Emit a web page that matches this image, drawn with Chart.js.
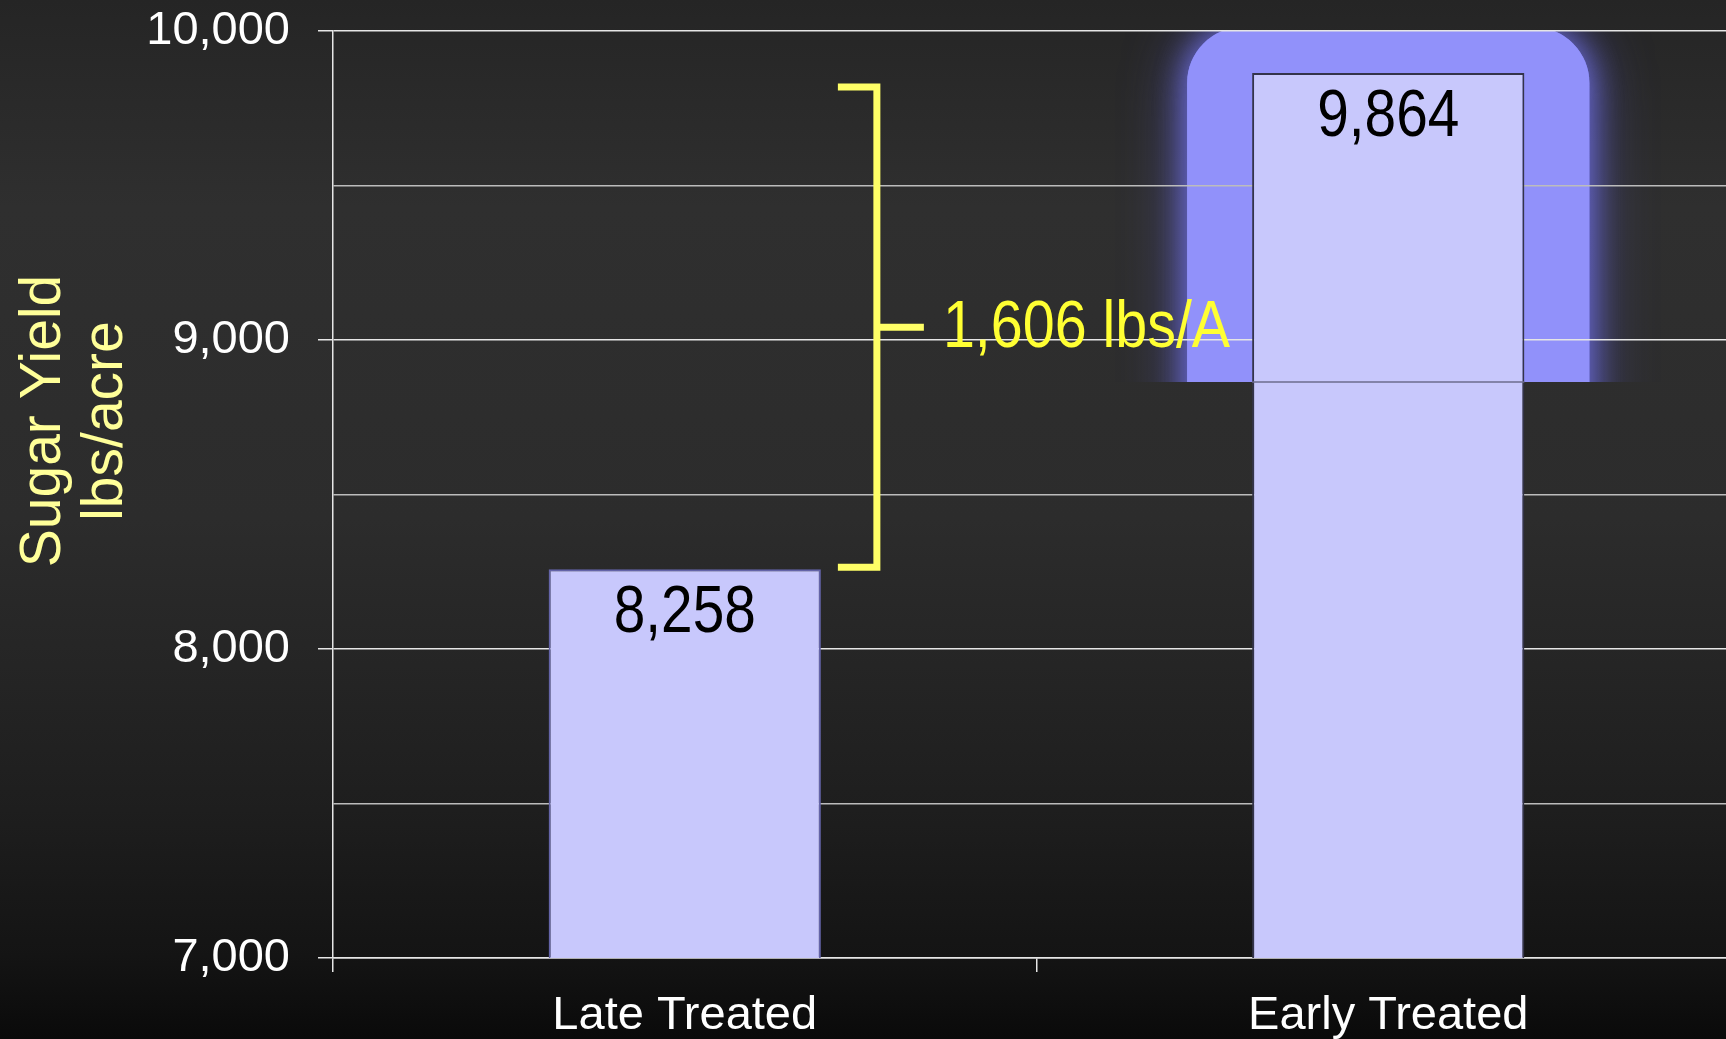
<!DOCTYPE html>
<html lang="en">
<head>
<meta charset="utf-8">
<title>Sugar Yield</title>
<script src="https://cdn.jsdelivr.net/npm/chart.js@4.4.1/dist/chart.umd.min.js"></script>
<style>
  html, body {
    margin: 0;
    padding: 0;
    width: 1726px;
    height: 1039px;
    overflow: hidden;
    background: linear-gradient(to bottom, #252525 0%, #2f2f2f 20%, #2c2c2c 50%, #1e1e1e 78%, #141414 92%, #0a0a0a 100%);
  }
  /* plot runs slightly past the right edge of the window */
  #wrap { position: relative; width: 1740px; height: 1039px; }
</style>
</head>
<body>
<div id="wrap"><canvas id="yieldChart"></canvas></div>
<script>
const categories = ['Late Treated', 'Early Treated'];
const sugarYield = [8258, 9864];
const yTitleLines = ['Sugar Yield', 'lbs/acre'];
const labelledTicks = [7000, 8000, 9000, 10000];
const highlightIndex = 1;      // bar that gets the glow
const highlightDepth = 1000;   // glow reaches this far below the bar value

const FONT = "'Liberation Sans', Arial, sans-serif";

// soft blue halo behind the highlighted bar, drawn under the grid
const highlightGlow = {
  id: 'highlightGlow',
  beforeDraw(chart) {
    const bar = chart.getDatasetMeta(0).data[highlightIndex];
    if (!bar) return;
    const area = chart.chartArea;
    const bottom = chart.scales.y.getPixelForValue(sugarYield[highlightIndex] - highlightDepth);
    const half = bar.width / 2 + 65;
    const ctx = chart.ctx;
    ctx.save();
    ctx.beginPath();
    ctx.rect(area.left, area.top, area.right - area.left, bottom - area.top);
    ctx.clip();
    ctx.fillStyle = '#9191fa';
    [[60, 'rgba(90,90,190,0.9)'], [30, 'rgba(110,110,220,1)']].forEach(([blur, colour]) => {
      ctx.shadowColor = colour;
      ctx.shadowBlur = blur;
      ctx.beginPath();
      ctx.roundRect(bar.x - half, area.top - 4, half * 2, bottom - area.top + 80, [56, 56, 0, 0]);
      ctx.fill();
    });
    ctx.restore();
  }
};

// value printed inside the top of each bar
const barValueLabels = {
  id: 'barValueLabels',
  afterDatasetsDraw(chart) {
    const ctx = chart.ctx;
    const meta = chart.getDatasetMeta(0);
    const hb = meta.data[highlightIndex];
    ctx.save();
    if (hb) {
      const yCut = chart.scales.y.getPixelForValue(sugarYield[highlightIndex] - highlightDepth);
      ctx.strokeStyle = '#6c6c8e';
      ctx.lineWidth = 1.5;
      ctx.beginPath();
      ctx.moveTo(hb.x - hb.width / 2, yCut);
      ctx.lineTo(hb.x + hb.width / 2, yCut);
      ctx.stroke();
    }
    ctx.fillStyle = '#000';
    ctx.font = `66px ${FONT}`;
    ctx.textAlign = 'center';
    ctx.textBaseline = 'alphabetic';
    meta.data.forEach((bar, i) => {
      ctx.save();
      ctx.translate(bar.x, bar.y + 63);
      ctx.scale(0.86, 1);
      ctx.fillText(sugarYield[i].toLocaleString('en-US'), 0, 0);
      ctx.restore();
    });
    ctx.restore();
  }
};

// yellow bracket between the two bar tops with the difference
const differenceBracket = {
  id: 'differenceBracket',
  afterDraw(chart) {
    const [late, early] = chart.getDatasetMeta(0).data;
    if (!late || !early) return;
    const y = chart.scales.y;
    const top = y.getPixelForValue(sugarYield[1]) + 14;
    const bottom = y.getPixelForValue(sugarYield[0]) - 2;
    const mid = (top + bottom) / 2;
    const xStart = late.x + late.width / 2 + 17;
    const xSpine = xStart + 39;
    const ctx = chart.ctx;
    ctx.save();
    ctx.strokeStyle = '#ffff66';
    ctx.lineWidth = 7;
    ctx.lineJoin = 'miter';
    ctx.beginPath();
    ctx.moveTo(xStart, top);
    ctx.lineTo(xSpine, top);
    ctx.lineTo(xSpine, bottom);
    ctx.lineTo(xStart, bottom);
    ctx.stroke();
    ctx.beginPath();
    ctx.moveTo(xSpine, mid);
    ctx.lineTo(xSpine + 47, mid);
    ctx.stroke();

    const diff = sugarYield[1] - sugarYield[0];
    ctx.fillStyle = '#ffff33';
    ctx.font = `66px ${FONT}`;
    ctx.textAlign = 'left';
    ctx.textBaseline = 'alphabetic';
    ctx.translate(xSpine + 66, mid + 20);
    ctx.scale(0.87, 1);
    ctx.fillText(`${diff.toLocaleString('en-US')} lbs/A`, 0, 0);
    ctx.restore();
  }
};

// two-line rotated title on the left
const yAxisTitle = {
  id: 'yAxisTitle',
  afterDraw(chart) {
    const ctx = chart.ctx;
    ctx.save();
    ctx.translate(0, 421);
    ctx.rotate(-Math.PI / 2);
    ctx.fillStyle = '#ffff99';
    ctx.font = `57px ${FONT}`;
    ctx.textAlign = 'center';
    ctx.textBaseline = 'alphabetic';
    ctx.fillText(yTitleLines[0], 0, 60);
    ctx.fillText(yTitleLines[1], 0, 122);
    ctx.restore();
  }
};

const isLabelled = (c) => c.tick && labelledTicks.includes(c.tick.value);

new Chart(document.getElementById('yieldChart'), {
  type: 'bar',
  data: {
    labels: categories,
    datasets: [{
      data: sugarYield,
      backgroundColor: '#c8c8fc',
      borderColor: ['#6464a8', '#34344a'],
      borderWidth: 2,
      borderSkipped: 'bottom',
      barPercentage: 0.387,
      categoryPercentage: 1
    }]
  },
  options: {
    responsive: true,
    maintainAspectRatio: false,
    animation: false,
    layout: { padding: { top: 31, right: 0, bottom: 0, left: 0 } },
    plugins: {
      legend: { display: false },
      tooltip: { enabled: false }
    },
    scales: {
      x: {
        grid: { drawOnChartArea: false, tickLength: 14, color: '#e6e6e6', lineWidth: 1.5 },
        border: { color: '#e6e6e6', width: 1.5 },
        ticks: { color: '#ffffff', font: { family: FONT, size: 47 }, padding: 16, maxRotation: 0 },
        afterFit(scale) {
          scale.height = 81;
          scale.paddingLeft = 0;
          scale.paddingRight = 0;
        }
      },
      y: {
        min: 7000,
        max: 10000,
        ticks: {
          stepSize: 500,
          autoSkip: false,
          color: '#ffffff',
          font: { family: FONT, size: 47 },
          padding: 28,
          callback: (v) => labelledTicks.includes(v) ? v.toLocaleString('en-US') : ''
        },
        grid: {
          color: (c) => isLabelled(c) ? '#e6e6e6' : '#bcbcbc',
          tickColor: (c) => isLabelled(c) ? '#e6e6e6' : 'rgba(0,0,0,0)',
          tickLength: 15,
          lineWidth: 1.5
        },
        border: { color: '#e6e6e6', width: 1.5 },
        afterFit(scale) {
          scale.width = 333;
          scale.paddingTop = 0;
          scale.paddingBottom = 0;
        }
      }
    }
  },
  plugins: [highlightGlow, barValueLabels, differenceBracket, yAxisTitle]
});
</script>
</body>
</html>
